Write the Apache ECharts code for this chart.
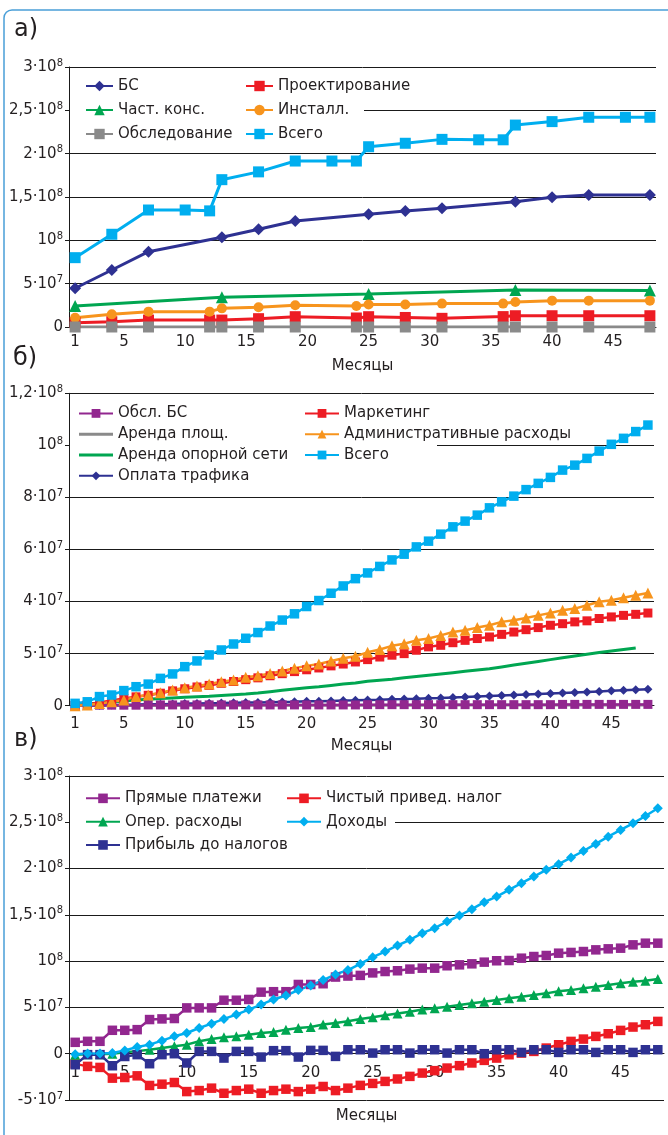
<!DOCTYPE html>
<html><head><meta charset="utf-8">
<script src="https://cdn.jsdelivr.net/npm/echarts@6/dist/echarts.min.js"></script>
<style>html,body{margin:0;padding:0;background:#fff}#c{width:668px;height:1135px}</style>
</head><body><div id="c"></div>
<script>
// ---------- Categories (months) ----------
const months = ['1','2','3','4','5','6','7','8','9','10','11','12','13','14','15','16','17','18','19','20','21','22','23','24',
  '25','26','27','28','29','30','31','32','33','34','35','36','37','38','39','40','41','42','43','44','45','46','47','48'];

// ---------- Panel а (values in millions) ----------
const aTotalMonths = [1,4,7,10,12,13,16,19,22,24,25,28,31,34,36,37,40,43,46,48];
const aTotal = [80,107,135,135,134,170,179,191.5,191.5,191.5,208,212,216.5,216,216,233,237,242,242,242];
const aBSMonths = [1,4,7,13,16,19,25,28,31,37,40,43,48];
const aBS = [44.7,65.8,86.9,103.5,112.7,122.3,130,133.8,137,144.6,149.6,152.3,152.3];
const aConsMonths = [1,13,25,37,48];
const aCons = [24.2,34.2,38,42.7,42];
const aStepMonths = [1,4,7,12,13,16,19,24,25,28,31,36,37,40,43,48];
const aInstall = [10.7,14.6,17.7,17.7,21.5,22.7,25,24.2,26,26,27,27,28.8,30.4,30.4,30.4];
const aDesign = [5,6.1,8,8,8,9.6,11.9,10.4,11.9,11,10,12,13,13,13,13];
const aSurvey = [0,0,0,0,0,0,0,0,0,0,0,0,0,0,0,0];
const aTickValues = [0,50,100,150,200,250,300];
const aTickLabels = ['0','5·10^7','10^8','1,5·10^8','2·10^8','2,5·10^8','3·10^8'];

// ---------- Panel б (values in millions) ----------
const bTotal = [0.9,1.5,3.5,4.1,5.8,7.3,8.3,10.5,12.2,15,17.2,19.5,21.4,23.7,25.9,28.1,30.6,32.9,35.3,38.1,40.4,43.2,46,48.8,
  51,53.5,56,58.2,61,63.2,65.9,68.7,70.9,73.2,76,78.3,80.5,83,85.4,87.7,90.5,92.4,95,97.8,100.4,102.7,105.3,107.8];
const bAdmin = [0,0.3,0.8,1.5,2.2,3.5,4.1,5,6,6.9,7.6,8.3,9.2,9.9,10.9,11.5,12.4,13.3,14.4,15.3,16,17.2,18.2,19,
  20.5,21.6,23,23.8,25.1,25.8,27,28.3,29,30,30.9,32.2,32.8,33.7,34.7,35.6,36.7,37.3,38.6,39.9,40.5,41.5,42.4,43.3];
const bMarketing = [0.1,0.5,1.2,2,2.8,3.4,4,4.8,5.7,6.5,7.2,7.8,8.6,9.3,10,10.7,11.5,12.3,13.1,13.8,14.5,15.3,16,16.8,
  17.7,18.7,19.4,20,21.3,22.6,23.2,24.2,25.1,25.8,26.4,27.4,28.3,29.2,30,30.9,31.5,32.2,32.6,33.5,34.1,34.7,35.1,35.6];
const bBackbone = [0.3,0.6,1,1.4,1.8,2.2,2.5,2.8,3,3.2,3.4,3.6,3.9,4.2,4.5,4.9,5.4,5.9,6.4,6.9,7.3,7.8,8.3,8.7,
  9.4,9.8,10.2,10.7,11.2,11.7,12.2,12.7,13.2,13.7,14.2,14.9,15.6,16.3,17,17.7,18.4,19.1,19.8,20.4,21,21.6,22.2,null];
const bTraffic = [0.1,0.15,0.2,0.3,0.4,0.45,0.55,0.6,0.7,0.8,0.85,0.95,1,1.1,1.2,1.25,1.35,1.45,1.55,1.7,1.75,1.85,1.95,2.05,
  2.2,2.3,2.45,2.55,2.7,2.9,3,3.15,3.3,3.5,3.7,3.9,4.1,4.3,4.5,4.7,4.9,5.1,5.3,5.5,5.7,5.9,6.1,6.3];
const bSiteRent = [0.1,0.1,0.1,0.1,0.1,0.1,0.1,0.1,0.2,0.2,0.2,0.2,0.2,0.2,0.2,0.2,0.2,0.2,0.2,0.2,0.2,0.2,0.2,0.2,
  0.2,0.2,0.2,0.2,0.2,0.2,0.3,0.3,0.3,0.3,0.3,0.3,0.3,0.3,0.3,0.3,0.3,0.3,0.3,0.3,0.3,0.3,0.3,0.3];
const bBSService = [0.1,0.1,0.2,0.2,0.2,0.2,0.3,0.3,0.3,0.3,0.3,0.3,0.3,0.3,0.3,0.3,0.3,0.3,0.3,0.3,0.3,0.3,0.3,0.3,
  0.4,0.4,0.4,0.4,0.4,0.4,0.4,0.4,0.4,0.4,0.4,0.4,0.4,0.4,0.4,0.4,0.5,0.5,0.5,0.5,0.5,0.5,0.5,0.5];
const bTickValues = [0,20,40,60,80,100,120];
const bTickLabels = ['0','5·10^7','4·10^7','6·10^7','8·10^7','10^8','1,2·10^8'];

// ---------- Panel в (values in millions) ----------
const cDirect = [12.3,13.4,13.4,25.3,25.3,26,36.9,37.6,38,49.5,49.5,49.5,57.8,57.8,58.6,66.5,67,67,74.8,74.8,75.6,82.8,83.9,84.6,
  87.3,88.8,89.6,91.4,92.4,92.4,95,96,97.1,98.9,100.4,100.7,103.2,105,106.1,108.6,109.4,110.4,112.2,113.3,114,117.6,119.4,119.4];
const cOpex = [-1,-0.5,-0.5,0,1.5,2.8,4.3,6.1,8,9.8,13.4,15.9,17.7,18.8,20.6,22.4,23.5,26,27.8,28.9,31.5,33.3,35,37.5,
  39.5,41.5,43.5,45.3,47.8,49,50.8,52.6,54.4,56.2,58,59.8,61.6,63.4,65.2,67.5,68.7,70.6,72.4,74.2,76,77.8,78.9,80.8];
const cProfit = [-11.9,-1,-1,-13,-3,-1,-10.8,-1,0,-10,2.5,2.5,-4.7,2.5,2.5,-3.6,3.3,3.3,-3.6,3.6,3.6,-2.9,4.3,4.3,
  0.7,4.3,4.3,0.7,4.3,4.3,0.7,4.3,4.3,0,4.3,4.3,1.4,4.3,4.3,1.4,4.3,4.3,1.4,4.3,4.3,1.4,4.3,4.3];
const cNetTax = [-11,-13.7,-14.8,-26.4,-25.7,-23.9,-34.3,-32.9,-31.1,-40.9,-39.8,-37.2,-42.7,-39.8,-38.3,-42.7,-39.8,-38.3,-40.9,-38.3,-35.4,-39.8,-37.2,-34.2,
  -32.1,-29.9,-27.3,-24.5,-20.9,-18.3,-15.5,-12.9,-10,-7.2,-4.7,-1.1,0.7,2.5,6.1,9.7,13.3,15.8,18.7,21.6,25.2,28.8,31.3,34.9];
const cIncome = [-0.5,0.2,0.3,0.7,3.6,7.2,9.8,14.1,18.8,22.4,27.8,32.5,37.6,42.3,47.7,53.1,58.6,62.9,68.7,73.8,79.5,85.7,90.4,97,
  104.3,110.4,116.9,123,130.2,135.6,142.8,149.3,156.1,163.7,169.8,177,184.2,191.4,198.6,204.7,211.9,219,226.6,234.5,241.7,248.9,256.8,265.1];
const cTickValues = [-50,0,50,100,150,200,250,300];
const cTickLabels = ['-5·10^7','0','5·10^7','10^8','1,5·10^8','2·10^8','2,5·10^8','3·10^8'];

// ---------- Styling ----------
const FONT = 'DejaVu Sans';
const TXT = '#231f20';
const LINE = '#1a1a1a';
const C = {navy:'#2e3192', red:'#ed1c24', green:'#00a651', orange:'#f7941d', gray:'#8a8a8a', sky:'#00aeef', purple:'#92278f'};

function richLabel(s){
  const m = s.match(/^(.*)\^(\d+)$/);
  return m ? '{b|' + m[1] + '}{s|' + m[2] + '}' : '{b|' + s + '}';
}
function tickFormatter(values, labels){
  return function(v){
    const i = values.findIndex(t => Math.abs(t - v) < 1e-6);
    return i < 0 ? '' : richLabel(labels[i]);
  };
}
function yAxis(gi, min, max, interval, values, labels){
  return {
    type:'value', gridIndex:gi, min:min, max:max, interval:interval,
    axisLine:{show:true, lineStyle:{color:LINE, width:1}},
    axisTick:{show:true, length:4, lineStyle:{color:LINE}},
    splitLine:{show:true, lineStyle:{color:LINE, width:1}},
    axisLabel:{margin:6, formatter:tickFormatter(values, labels),
      rich:{b:{fontFamily:FONT, fontSize:15, lineHeight:18, color:TXT},
            s:{fontFamily:FONT, fontSize:10, lineHeight:10, verticalAlign:'top', color:TXT}}}
  };
}
function xAxis(gi, margin, nameGap, offset){
  return {
    type:'category', gridIndex:gi, data:months, boundaryGap:true, offset:offset,
    axisLine:{show:true, onZero:false, lineStyle:{color:LINE, width:1}},
    axisTick:{show:false},
    axisLabel:{interval:function(i){ return i === 0 || (i + 1) % 5 === 0; }, margin:margin,
      fontFamily:FONT, fontSize:15, color:TXT},
    name:'Месяцы', nameLocation:'middle', nameGap:nameGap,
    nameTextStyle:{fontFamily:FONT, fontSize:15, color:TXT}
  };
}
function pairs(ms, vs){ return ms.map((m, i) => [String(m), vs[i]]); }
function line(name, gi, data, color, symbol, size, width, extra){
  return Object.assign({
    type:'line', name:name, xAxisIndex:gi, yAxisIndex:gi, data:data,
    symbol:symbol, symbolSize:size, showSymbol:symbol !== 'none', showAllSymbol:true,
    color:color, lineStyle:{color:color, width:width}, itemStyle:{color:color},
    connectNulls:true, animation:false, emphasis:{disabled:true}
  }, extra || {});
}
function legend(names, left, top, lh, itemW, itemH){
  return {orient:'vertical', left:left, top:top, padding:0, itemGap:0, itemWidth:itemW, itemHeight:itemH,
    selectedMode:false, data:names,
    textStyle:{fontFamily:FONT, fontSize:15, color:TXT, lineHeight:lh}};
}
const lineIcon = 'path://M0,0H34V3H0Z';

const option = {
  backgroundColor:'#fff',
  animation:false,
  grid:[
    {left:69, top:67, width:587, height:260},
    {left:69, top:393.3, width:585, height:312.4},
    {left:69, top:776, width:595, height:324}
  ],
  xAxis:[xAxis(0, 8, 32, 0), xAxis(1, 11, 33, 0), xAxis(2, 12, 55, -46.3)],
  yAxis:[
    yAxis(0, 0, 300, 50, aTickValues, aTickLabels),
    yAxis(1, 0, 120, 20, bTickValues, bTickLabels),
    yAxis(2, -50, 300, 50, cTickValues, cTickLabels)
  ],
  legend:[
    legend(['БС','Част. конс.','Обследование'], 85, 74, 24, 27, 13),
    legend(['Проектирование','Инсталл.','Всего'], 245, 74, 24, 27, 13),
    legend(['Обсл. БС', {name:'Аренда площ.', icon:lineIcon}, {name:'Аренда опорной сети', icon:lineIcon}, 'Оплата трафика'], 78, 403, 20.8, 34, 11),
    legend(['Маркетинг','Административные расходы','Всего '], 304, 403, 20.8, 34, 11),
    legend(['Прямые платежи','Опер. расходы','Прибыль до налогов'], 85, 786.7, 23.3, 34, 12),
    legend(['Чистый привед. налог','Доходы'], 286, 786.7, 23.3, 34, 12)
  ],
  graphic:[
    {type:'rect', z:0, shape:{x:4, y:10, width:720, height:1200, r:8}, style:{fill:'none', stroke:'#4a9fd8', lineWidth:1.5}},
    {type:'rect', z:1, shape:{x:70, y:70, width:294, height:80}, style:{fill:'#fff'}},
    {type:'rect', z:1, shape:{x:70, y:400, width:367, height:86}, style:{fill:'#fff'}},
    {type:'rect', z:1, shape:{x:70, y:785, width:325, height:70}, style:{fill:'#fff'}},
    {type:'text', z:5, left:14, top:18, style:{text:'а)', fontFamily:FONT, fontSize:24, fill:TXT}},
    {type:'text', z:5, left:13, top:347, style:{text:'б)', fontFamily:FONT, fontSize:24, fill:TXT}},
    {type:'text', z:5, left:14, top:728, style:{text:'в)', fontFamily:FONT, fontSize:24, fill:TXT}}
  ],
  series:[
    line('БС', 0, pairs(aBSMonths, aBS), C.navy, 'diamond', 12, 3),
    line('Проектирование', 0, pairs(aStepMonths, aDesign), C.red, 'rect', 11, 3),
    line('Част. конс.', 0, pairs(aConsMonths, aCons), C.green, 'triangle', 12, 3),
    line('Инсталл.', 0, pairs(aStepMonths, aInstall), C.orange, 'circle', 10, 3),
    line('Обследование', 0, pairs(aStepMonths, aSurvey), C.gray, 'rect', 11, 3),
    line('Всего', 0, pairs(aTotalMonths, aTotal), C.sky, 'rect', 11, 3),

    line('Аренда площ.', 1, bSiteRent, C.gray, 'none', 0, 3),
    line('Аренда опорной сети', 1, bBackbone, C.green, 'none', 0, 3),
    line('Оплата трафика', 1, bTraffic, C.navy, 'diamond', 9, 2.5),
    line('Обсл. БС', 1, bBSService, C.purple, 'rect', 9, 2.5, {z:3}),
    line('Маркетинг', 1, bMarketing, C.red, 'rect', 9, 2.5),
    line('Административные расходы', 1, bAdmin, C.orange, 'triangle', 11, 2.5),
    line('Всего ', 1, bTotal, C.sky, 'rect', 9.5, 2.5),

    line('Прямые платежи', 2, cDirect, C.purple, 'rect', 9.5, 2.5),
    line('Чистый привед. налог', 2, cNetTax, C.red, 'rect', 9.5, 2.5),
    line('Опер. расходы', 2, cOpex, C.green, 'triangle', 10, 2.5),
    line('Прибыль до налогов', 2, cProfit, C.navy, 'rect', 9.5, 2.5),
    line('Доходы', 2, cIncome, C.sky, 'diamond', 10, 2.5)
  ]
};
const chart = echarts.init(document.getElementById('c'), null, {renderer:'canvas'});
chart.setOption(option);
</script>
</body></html>
